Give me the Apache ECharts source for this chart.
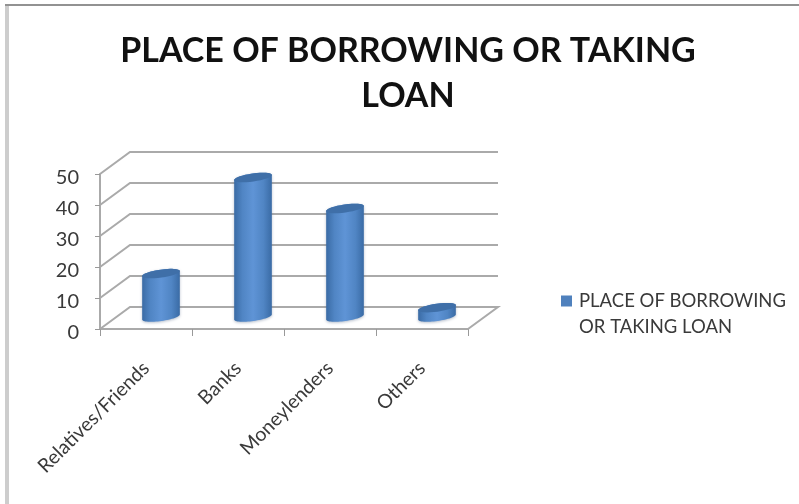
<!DOCTYPE html>
<html>
<head>
<meta charset="utf-8">
<style>html,body{margin:0;padding:0;background:#fff}#chart{width:799px;height:504px}</style>
<script src="https://cdn.jsdelivr.net/npm/echarts@6/dist/echarts.min.js"></script>
</head>
<body>
<div id="chart"></div>
<script>
// Sources of borrowing, in percent of respondents
const categories = ['Relatives/Friends', 'Banks', 'Moneylenders', 'Others'];
const loanShare = [14, 45, 35, 3];
const valueTicks = [0, 10, 20, 30, 40, 50];
const seriesName = 'PLACE OF BORROWING OR TAKING LOAN';
const titleLines = ['PLACE OF BORROWING OR TAKING', 'LOAN'];
const legendLines = ['PLACE OF BORROWING', 'OR TAKING LOAN'];

// Pseudo-3D projection of the chart box, in pixels
const DEPTH_X = 30;
const DEPTH_Y = 22;
const CYL_INSET_Y = 12;
const CYL_RX = 19;
const CYL_RY = 4;
const CYL_TILT = -8 * Math.PI / 180;
const GRID_COLOR = '#aaaaaa';

function ellipsePoint(cx, cy, t) {
  const ex = CYL_RX * Math.cos(t), ey = CYL_RY * Math.sin(t);
  return [
    cx + ex * Math.cos(CYL_TILT) - ey * Math.sin(CYL_TILT),
    cy + ex * Math.sin(CYL_TILT) + ey * Math.cos(CYL_TILT)
  ];
}

function arc(cx, cy, from, to) {
  const pts = [];
  for (let i = 0; i <= 32; i++) pts.push(ellipsePoint(cx, cy, from + (to - from) * i / 32));
  return pts;
}

// One wall line per tick: left wall diagonal, then the back wall line
function renderWallLine(params, api) {
  const value = api.value(1);
  const front = api.coord([0, value]);
  const band = api.size([1, 0])[0];
  const left = front[0] - band / 2;
  const right = left + band * categories.length;
  const pts = [[left, front[1]], [left + DEPTH_X, front[1] - DEPTH_Y], [right + DEPTH_X, front[1] - DEPTH_Y]];
  if (value === 0) pts.push([right, front[1]]);
  return {
    type: 'polyline',
    shape: { points: pts },
    style: { stroke: GRID_COLOR, lineWidth: 2, fill: null }
  };
}

// A cylinder standing halfway into the depth of the floor
function renderCylinder(params, api) {
  const top = api.coord([api.value(0), api.value(1)]);
  const base = api.coord([api.value(0), 0]);
  const cx = top[0] + DEPTH_X / 2;
  const topY = top[1] - CYL_INSET_Y;
  const baseY = base[1] - CYL_INSET_Y;
  const body = arc(cx, baseY, 0, Math.PI).concat(arc(cx, topY, Math.PI, 2 * Math.PI));
  return {
    type: 'group',
    children: [
      {
        type: 'polygon',
        shape: { points: body },
        style: {
          fill: {
            type: 'linear', x: 0, y: 0, x2: 1, y2: 0,
            colorStops: [
              { offset: 0, color: '#3a6ba5' },
              { offset: 0.22, color: '#5085c4' },
              { offset: 0.5, color: '#5f94d6' },
              { offset: 0.78, color: '#5085c4' },
              { offset: 1, color: '#3a6ba5' }
            ]
          },
          shadowColor: 'rgba(90,110,140,0.45)',
          shadowBlur: 3,
          shadowOffsetY: 1
        }
      },
      {
        type: 'polygon',
        shape: { points: arc(cx, topY, 0, 2 * Math.PI) },
        style: { fill: '#3f6fa8' }
      }
    ]
  };
}

const chart = echarts.init(document.getElementById('chart'));
chart.setOption({
  animation: false,
  backgroundColor: '#fff',
  title: {
    text: titleLines.join('\n'),
    left: 403,
    top: 24,
    textAlign: 'center',
    textStyle: { fontFamily: 'Lato', fontWeight: 700, fontSize: 34, lineHeight: 45, color: '#111' }
  },
  legend: {
    left: 561,
    top: 262,
    padding: 0,
    itemWidth: 11,
    itemHeight: 11,
    itemGap: 0,
    icon: 'rect',
    data: [seriesName],
    // The empty first line keeps the swatch level with the first text line
    formatter: () => '\n' + legendLines.join('\n'),
    textStyle: { fontFamily: 'Lato', fontSize: 18.5, lineHeight: 26, color: '#3a3a3a', padding: [0, 0, 0, 2] }
  },
  graphic: [
    {
      type: 'rect',
      silent: true,
      z: -10,
      shape: { x: 5, y: 5, width: 4, height: 499 },
      style: { fill: '#cdcdcd' }
    },
    {
      type: 'rect',
      silent: true,
      z: -9,
      shape: { x: 5, y: 4, width: 794, height: 2 },
      style: { fill: '#929292' }
    }
  ],
  grid: { left: 100, right: 331, top: 174, bottom: 175, containLabel: false },
  xAxis: {
    type: 'category',
    data: categories,
    axisLine: { lineStyle: { color: GRID_COLOR, width: 2 } },
    axisTick: { show: true, alignWithLabel: false, length: 7, lineStyle: { color: '#999999' } },
    axisLabel: {
      interval: 0,
      rotate: 45,
      margin: 36,
      fontFamily: 'Lato',
      fontSize: 19.5,
      color: '#3a3a3a'
    }
  },
  yAxis: {
    type: 'value',
    min: 0,
    max: 50,
    interval: 10,
    axisLine: { show: true, lineStyle: { color: GRID_COLOR, width: 2 } },
    axisTick: { show: true, length: 5, lineStyle: { color: '#999999' } },
    splitLine: { show: false },
    axisLabel: { margin: 21, fontFamily: 'Lato', fontSize: 20, color: '#3a3a3a', verticalAlign: 'top', lineHeight: 8 }
  },
  series: [
    {
      name: 'walls',
      type: 'custom',
      silent: true,
      clip: false,
      z: 1,
      renderItem: renderWallLine,
      encode: { x: 0, y: 1 },
      data: valueTicks.map(v => [0, v])
    },
    {
      name: seriesName,
      type: 'custom',
      clip: false,
      z: 2,
      itemStyle: { color: '#4f81bd' },
      renderItem: renderCylinder,
      encode: { x: 0, y: 1 },
      data: loanShare.map((v, i) => [i, v])
    }
  ]
});
</script>
</body>
</html>
